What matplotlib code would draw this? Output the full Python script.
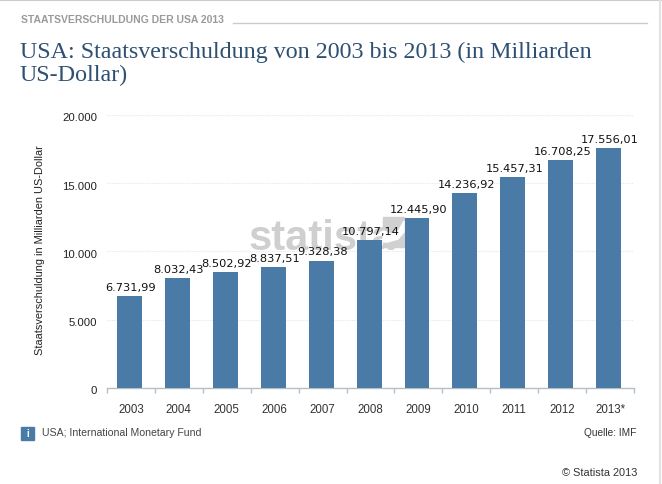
import matplotlib
matplotlib.use('Agg')
import matplotlib.pyplot as plt
from matplotlib.lines import Line2D
from matplotlib.patches import Rectangle, Polygon
from matplotlib.transforms import ScaledTranslation

years = ['2003', '2004', '2005', '2006', '2007', '2008', '2009', '2010', '2011', '2012', '2013*']
debt = [6731.99, 8032.43, 8502.92, 8837.51, 9328.38, 10797.14, 12445.90, 14236.92, 15457.31, 16708.25, 17556.01]
labels = ['6.731,99', '8.032,43', '8.502,92', '8.837,51', '9.328,38', '10.797,14',
          '12.445,90', '14.236,92', '15.457,31', '16.708,25', '17.556,01']
yticks = [0, 5000, 10000, 15000, 20000]
yticklabels = ['0', '5.000', '10.000', '15.000', '20.000']

W, H = 662, 485
def fx(p): return p / W
def fy(p): return 1 - p / H

plt.rcParams['font.family'] = ['Liberation Sans', 'DejaVu Sans']
fig = plt.figure(figsize=(W / 100, H / 100), dpi=100, facecolor='white')
ax = fig.add_axes([fx(107), fy(389), (634 - 107) / W, (389 - 115.7) / H])
ax.set_zorder(2)
ax.patch.set_alpha(0)

off = 0.03
xs = list(range(len(years)))
ax.bar(xs, debt, width=0.52, color='#4a7ba7', zorder=3)
ax.set_xlim(-0.5 + off, 10.5 + off)
ax.set_ylim(0, 20000)
ax.yaxis.grid(True, color='#e8e8e8', linestyle=(0, (1, 1)), linewidth=0.8, zorder=0)
ax.set_axisbelow(True)
for s in ['top', 'right', 'left']:
    ax.spines[s].set_visible(False)
ax.spines['bottom'].set_color('#b5bfc8')
ax.spines['bottom'].set_linewidth(1)

ax.set_yticks(yticks)
ax.set_yticklabels(yticklabels, fontsize=8.2, color='#222222')
ax.tick_params(axis='y', length=0, pad=7)
shift = ScaledTranslation(0, -1.5 / 100, fig.dpi_scale_trans)
for t in ax.get_yticklabels():
    t.set_transform(t.get_transform() + shift)
ax.set_xticks([x - 0.5 + off for x in range(12)])
ax.set_xticklabels([])
ax.tick_params(axis='x', length=3.6, color='#b5bfc8', width=1, direction='out')
for x, y in zip(xs, years):
    ax.annotate(y, (x + off, 0), xytext=(0, -15), textcoords='offset points', ha='center', va='center',
                fontsize=8.3, color='#333333', annotation_clip=False)
ax.set_ylabel('Staatsverschuldung in Milliarden US-Dollar', fontsize=7.9, color='#222222')
ax.yaxis.set_label_coords((45 - 107) / (634 - 107), 0.509)

for x, v, l in zip(xs, debt, labels):
    ax.annotate(l, (x + off, v), xytext=(0, 3), textcoords='offset points', ha='center', va='bottom',
                fontsize=8.2, color='#111111', family='DejaVu Sans', zorder=5, annotation_clip=False)

# Watermark
fig.text(fx(249), fy(250), 'statista', fontsize=30, fontweight='bold', color='#cfcfcf',
         ha='left', va='baseline', zorder=1)
fig.add_artist(Rectangle((fx(383), fy(248)), 21 / W, 30 / H, color='#d0d0d0', zorder=1.1,
                         transform=fig.transFigure))
fig.add_artist(Polygon([[fx(383), fy(232)], [fx(392), fy(235)], [fx(399), fy(231)], [fx(404), fy(222)],
                        [fx(404), fy(233)], [fx(398), fy(240)], [fx(388), fy(243)], [fx(383), fy(243)]],
                       closed=True, color='white', zorder=1.2))

# Header
fig.text(fx(21), fy(20), 'STAATSVERSCHULDUNG DER USA 2013', fontsize=7.45, fontweight='bold', color='#9a9a9a',
         ha='left', va='center')
fig.add_artist(Line2D([fx(233), fx(647)], [fy(23.5), fy(23.5)], color='#cccccc', lw=1))
fig.text(fx(20), fy(52), 'USA: Staatsverschuldung von 2003 bis 2013 (in Milliarden', fontsize=17.25,
         family='Liberation Serif', color='#2f5073', ha='left', va='center')
fig.text(fx(20), fy(75), 'US-Dollar)', fontsize=17.25, family='Liberation Serif', color='#2f5073',
         ha='left', va='center')

# Footer
fig.add_artist(Rectangle((fx(21), fy(441)), 13 / W, 13 / H, color='#4a7ba7', transform=fig.transFigure))
fig.text(fx(27.5), fy(434.5), 'i', fontsize=7, fontweight='bold', color='white', ha='center', va='center')
fig.text(fx(42), fy(433), 'USA; International Monetary Fund', fontsize=7.6, color='#444444', ha='left', va='center')
fig.text(fx(636), fy(433), 'Quelle: IMF', fontsize=7.3, color='#333333', ha='right', va='center')
fig.text(fx(637), fy(473), '© Statista 2013', fontsize=7.9, color='#333333', ha='right', va='center')

# Page edges
fig.add_artist(Line2D([0, 1], [fy(0.5), fy(0.5)], color='#cccccc', lw=1.5))
fig.add_artist(Line2D([fx(660), fx(660)], [0, 1], color='#e2e2e2', lw=1.5))

fig.savefig('out.png', dpi=100)
